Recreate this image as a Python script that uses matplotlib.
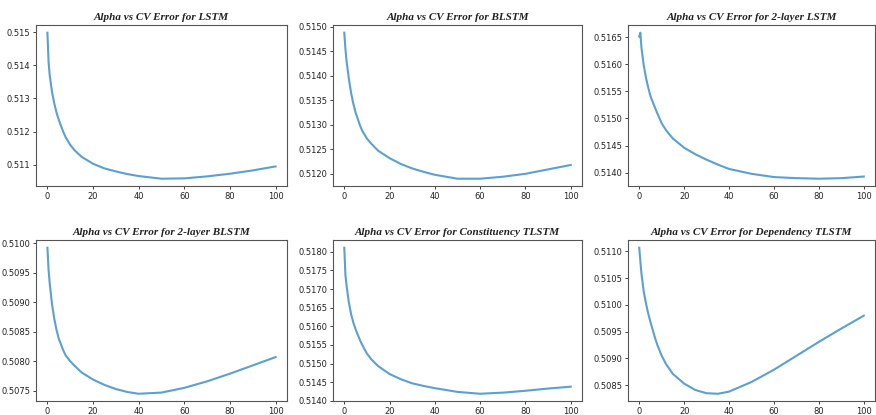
import matplotlib
matplotlib.use("Agg")
import matplotlib.pyplot as plt

alpha = [0, 0.5, 1, 2, 3, 4, 5, 7, 8, 10, 12, 15, 20, 25, 30, 35, 40, 50, 60, 70, 80, 90, 100]

err_lstm = [0.51498, 0.5141, 0.5137, 0.5132, 0.51285, 0.51257, 0.51235, 0.51198, 0.51183, 0.5116,
            0.51143, 0.51124, 0.51103, 0.51089, 0.5108, 0.51072, 0.51066, 0.51058, 0.51059, 0.51065,
            0.51073, 0.51083, 0.51095]
err_blstm = [0.51488, 0.51455, 0.5143, 0.51395, 0.51365, 0.51343, 0.51325, 0.51298, 0.51287, 0.51272,
             0.51261, 0.51247, 0.51232, 0.5122, 0.51211, 0.51204, 0.51198, 0.5119, 0.5119, 0.51194,
             0.512, 0.51209, 0.51218]
err_2lstm = [0.51651, 0.51658, 0.5163, 0.51598, 0.51575, 0.51557, 0.51541, 0.5152, 0.5151, 0.51491,
             0.51478, 0.51463, 0.51446, 0.51434, 0.51424, 0.51415, 0.51407, 0.51398, 0.51392, 0.5139,
             0.51389, 0.5139, 0.51393]
err_2blstm = [0.50992, 0.50955, 0.50932, 0.50897, 0.50872, 0.50853, 0.50838, 0.50818, 0.5081, 0.508,
              0.50792, 0.50781, 0.50769, 0.5076, 0.50753, 0.50748, 0.50745, 0.50747, 0.50755, 0.50766,
              0.50779, 0.50793, 0.50807]
err_ctlstm = [0.51811, 0.51738, 0.5171, 0.51665, 0.51633, 0.5161, 0.51592, 0.51562, 0.51549, 0.51527,
              0.51511, 0.51493, 0.51472, 0.51458, 0.51447, 0.5144, 0.51434, 0.51424, 0.51419, 0.51422,
              0.51427, 0.51433, 0.51438]
err_dtlstm = [0.51107, 0.51082, 0.51058, 0.51025, 0.51003, 0.50984, 0.50968, 0.50939, 0.50926, 0.50905,
              0.50889, 0.50871, 0.50853, 0.50841, 0.50835, 0.50834, 0.50838, 0.50856, 0.50879, 0.50905,
              0.50931, 0.50956, 0.5098]

names = ["LSTM", "BLSTM", "2-layer LSTM", "2-layer BLSTM", "Constituency TLSTM", "Dependency TLSTM"]
series = [err_lstm, err_blstm, err_2lstm, err_2blstm, err_ctlstm, err_dtlstm]

fig = plt.figure(figsize=(8.76, 4.15), dpi=100)
lefts = [0.0411, 0.3801, 0.7169]
widths = [0.2865, 0.2843, 0.2820]
bottoms = [0.5518, 0.0336]
height = 0.3870

for i, (nm, ys) in enumerate(zip(names, series)):
    r, c = divmod(i, 3)
    ax = fig.add_axes([lefts[c], bottoms[r], widths[c], height])
    ax.plot(alpha, ys, color="#5ba0d2", lw=1.5)
    ax.set_xticks([0, 20, 40, 60, 80, 100])
    ax.tick_params(labelsize=6, length=2.5, width=0.6, pad=1.5, colors="#222222")
    for s in ax.spines.values():
        s.set_color("#555555")
        s.set_linewidth(0.8)
    ax.set_title("Alpha vs CV Error for " + nm, family="Liberation Serif",
                 style="italic", fontweight="bold", fontsize=8, pad=4, color="#222222")

fig.savefig("out.png", dpi=100)
